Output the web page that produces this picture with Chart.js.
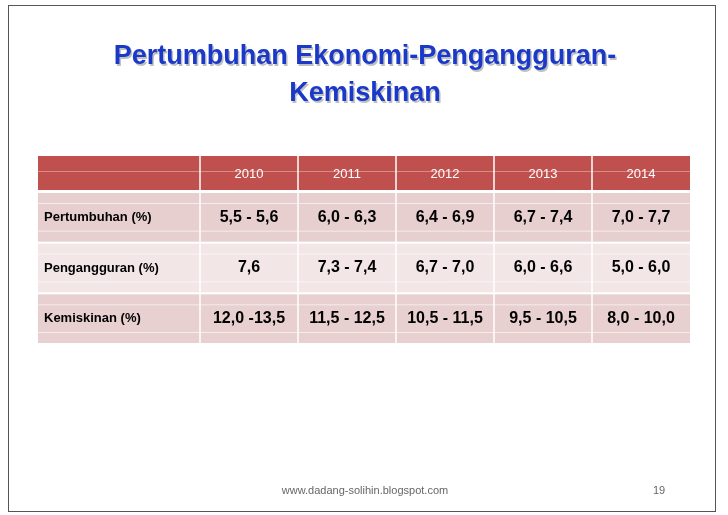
<!DOCTYPE html><html><head><meta charset="utf-8">
<script src="https://cdn.jsdelivr.net/npm/chart.js@4"></script>
<style>html,body{margin:0;padding:0;background:#fff}#w{width:728px;height:515px}</style></head><body>
<div id="w"><canvas id="c"></canvas></div>
<script>
const years = ['2010','2011','2012','2013','2014'];
const rowLabels = ['Pertumbuhan (%)','Pengangguran (%)','Kemiskinan (%)'];
const pertumbuhan = ['5,5 - 5,6','6,0 - 6,3','6,4 - 6,9','6,7 - 7,4','7,0 - 7,7'];
const pengangguran = ['7,6','7,3 - 7,4','6,7 - 7,0','6,0 - 6,6','5,0 - 6,0'];
const kemiskinan = ['12,0 -13,5','11,5 - 12,5','10,5 - 11,5','9,5 - 10,5','8,0 - 10,0'];
const rows = [pertumbuhan, pengangguran, kemiskinan];
const titleLines = ['Pertumbuhan Ekonomi-Pengangguran-','Kemiskinan'];
const footer = 'www.dadang-solihin.blogspot.com';
const pageNo = '19';

const tablePlugin = {
  id:'table',
  afterDraw(chart){
    const ctx = chart.ctx, a = chart.chartArea, xs = chart.scales.x, ys = chart.scales.y;
    ctx.save();
    // frame
    ctx.strokeStyle='#555'; ctx.lineWidth=1; ctx.strokeRect(8.5,5.5,707,506);
    // title
    ctx.textAlign='center'; ctx.textBaseline='middle';
    ctx.font='bold 27px "Liberation Sans", Arial, sans-serif';
    titleLines.forEach((t,i)=>{
      ctx.fillStyle='rgba(0,0,0,0.25)'; ctx.fillText(t,365+1.5,57+i*37+1.5);
      ctx.fillStyle='#1b39c9'; ctx.fillText(t,365,57+i*37);
    });
    const colW = xs.width/years.length;
    const rowH = ys.height/rowLabels.length;
    const left = 38, right = a.right;
    // header
    const hTop = a.top-36, hBot = a.top-2;
    ctx.fillStyle='#c0504d'; ctx.fillRect(left,hTop,right-left,hBot-hTop);
    ctx.strokeStyle='rgba(255,255,255,0.35)'; ctx.beginPath(); ctx.moveTo(left,hTop+15.5); ctx.lineTo(right,hTop+15.5); ctx.stroke();
    ctx.font='13px "Liberation Sans", Arial, sans-serif'; ctx.fillStyle='#fff';
    years.forEach((y,i)=>ctx.fillText(y, xs.getPixelForValue(i), (hTop+hBot)/2+1));
    const bg=['#e8cfcf','#f2e6e6','#e8cfd0'];
    rowLabels.forEach((lab,r)=>{
      const cy = ys.getPixelForValue(r);
      const t = cy-rowH/2+1, b = cy+rowH/2-1;
      ctx.fillStyle=bg[r]; ctx.fillRect(left,t,right-left,b-t);
      ctx.strokeStyle='rgba(255,255,255,0.6)';
      ctx.beginPath(); ctx.moveTo(left,t+10.5); ctx.lineTo(right,t+10.5); ctx.moveTo(left,b-10.5); ctx.lineTo(right,b-10.5); ctx.stroke();
      ctx.fillStyle='#000'; ctx.textAlign='left';
      ctx.font='bold 13px "Liberation Sans", Arial, sans-serif';
      ctx.fillText(lab,44,cy);
      ctx.textAlign='center'; ctx.font='bold 16px "Liberation Sans", Arial, sans-serif';
      rows[r].forEach((v,i)=>ctx.fillText(v, xs.getPixelForValue(i), cy));
    });
    // vertical white separators
    ctx.strokeStyle='#fff'; ctx.lineWidth=1.5; ctx.beginPath();
    for(let i=0;i<years.length;i++){const x=xs.getPixelForValue(i)-colW/2; ctx.moveTo(x,hTop); ctx.lineTo(x,a.bottom);}
    ctx.stroke();
    // footer
    ctx.font='11px "Liberation Sans", Arial, sans-serif'; ctx.fillStyle='#666';
    ctx.fillText(footer,365,491); ctx.fillText(pageNo,659,491);
    ctx.restore();
  }
};
new Chart(document.getElementById('c'),{
  type:'scatter',
  data:{datasets:[{data:[]}]},
  options:{responsive:true,maintainAspectRatio:false,animation:false,
    layout:{padding:{left:200,right:38,top:192,bottom:171}},
    plugins:{legend:{display:false},tooltip:{enabled:false}},
    scales:{
      x:{type:'category',labels:years,offset:true,display:false},
      y:{type:'category',labels:rowLabels,offset:true,display:false}
    }},
  plugins:[tablePlugin]
});
</script></body></html>
